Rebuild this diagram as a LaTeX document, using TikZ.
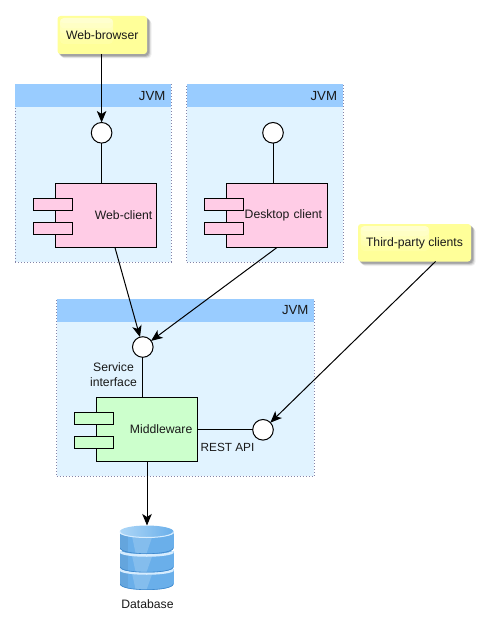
\documentclass[tikz,border=0pt]{standalone}
\usepackage{fontspec}
\setmainfont{Liberation Sans}
\usetikzlibrary{arrows.meta,calc}
\definecolor{jvmbody}{HTML}{E1F3FF}
\definecolor{jvmhead}{HTML}{99CCFF}
\definecolor{jvmedge}{HTML}{8484A8}
\definecolor{pinkfill}{HTML}{FFCCE6}
\definecolor{greenfill}{HTML}{CCFFCC}
\definecolor{notefill}{HTML}{FFFF99}
\definecolor{dbdark}{HTML}{6AAFEA}
\definecolor{dblight}{HTML}{B4DCFD}
\definecolor{dbtop}{HTML}{9ACDF5}
\definecolor{dbseam}{HTML}{3F88CC}
\tikzset{
  every node/.style={font=\fontsize{12.2}{14.6}\selectfont, outer sep=0pt, inner sep=0pt, text=black!90},
  jvmbox/.style={rectangle, fill=jvmbody, draw=jvmedge, line width=.8pt, dash pattern=on 1pt off 2pt, anchor=north west},
  jvmhd/.style={rectangle, fill=jvmhead, anchor=north west, minimum height=22.5pt, inner xsep=6pt, text width=#1, align=right},
  compbox/.style={rectangle, draw=black, line width=1pt, anchor=north west, minimum width=101pt, minimum height=64pt},
  portbox/.style={rectangle, draw=black, line width=1pt, anchor=north west, minimum width=39pt, minimum height=12pt},
  iface/.style={circle, draw=black, fill=white, line width=1pt, minimum size=20.6pt},
  notebox/.style={rectangle, rounded corners=3pt, fill=notefill, anchor=north west},
  conn/.style={draw=black, line width=1pt},
  arr/.style={conn, -{Stealth[length=11.5pt,width=9.5pt,inset=3pt]}},
  plainlabel/.style={align=center}
}
\newcommand{\noteshadow}[4]{%
  \foreach \d/\o in {5.0/.06,4.2/.09,3.4/.12,2.6/.15}{
    \fill[black,opacity=\o,rounded corners=4pt] (#1+\d-1.5,#2+\d-1.5) rectangle (#3+\d-.5,#4+\d-.5);
  }}
\newcommand{\notegloss}[4]{%
  \foreach \h/\o in {1/.12,.8/.12,.6/.14,.4/.16,.2/.18}{
    \fill[white,opacity=\o,rounded corners=4pt] (#1,#2) rectangle (#3,{#2+\h*(#4-#2)});
  }}
\newcommand{\dbseg}[3]{%
  \begin{scope}
    \clip (120,#1) -- (120,#2) .. controls (120,#2+#3*1.33) and (173.5,#2+#3*1.33) .. (173.5,#2) -- (173.5,#1) -- cycle;
    \shade[left color=dbdark, middle color=dblight, right color=dbdark] (120,#1) rectangle (173.5,#2+#3+1);
    \fill[white,opacity=.18] (131,#1) -- (154,#1) -- (146,#2+#3+1) -- (136,#2+#3+1) -- cycle;
    \fill[dbdark!70!black,opacity=.18] (120,#1) rectangle (128,#2+#3+1);
    \draw[dbseam, line width=1.2pt] (120,#2) .. controls (120,#2+#3*1.33) and (173.5,#2+#3*1.33) .. (173.5,#2);
    \draw[white!45!dblight, line width=2.5pt] (120,#1) .. controls (120,#1+6) and (173.5,#1+6) .. (173.5,#1);
  \end{scope}}
\begin{document}
\begin{tikzpicture}[x=1pt,y=-1pt]
\useasboundingbox (0,0) rectangle (487,628);

% JVM containers
\node[jvmbox, minimum width=156pt, minimum height=177.7pt] (jvma) at (15.3,84.5) {};
\node[jvmbox, minimum width=156.5pt, minimum height=177.7pt] (jvmb) at (186.5,84.5) {};
\node[jvmbox, minimum width=257.7pt, minimum height=177pt] (jvmc) at (56.7,299.2) {};
\node[jvmhd=144pt] (jvmahd) at (15.3,84.3) {\raisebox{-.7pt}{\fontsize{13.2}{15}\selectfont JVM}};
\node[jvmhd=144.5pt] (jvmbhd) at (186.5,84.3) {\raisebox{-.7pt}{\fontsize{13.2}{15}\selectfont JVM}};
\node[jvmhd=245.7pt] (jvmchd) at (56.7,299) {\raisebox{-.7pt}{\fontsize{13.2}{15}\selectfont JVM}};

% Notes
\noteshadow{57.5}{16}{147}{54}
\noteshadow{358}{224}{471}{261.5}
\node[notebox, minimum width=89.5pt, minimum height=38pt] (web) at (57.5,16) {};
\node[notebox, minimum width=113pt, minimum height=37.5pt] (third) at (358,224) {};
\notegloss{60}{18}{113}{44}
\notegloss{360.5}{226}{429}{251}
\node (webtxt) at (web.center) [yshift=-.5pt] {Web-browser};
\node (thirdtxt) at (third.center) [yshift=-.5pt] {Third-party clients};

% Components
\node[compbox, fill=pinkfill, text width=92.6pt, align=right] (wc) at (55.5,183.5) {\raisebox{-.5pt}{Web-client}};
\node[portbox, fill=pinkfill] (wcp) at (33.5,198.5) {};
\node[portbox, fill=pinkfill] (wcq) at (33.5,222.5) {};
\node[compbox, fill=pinkfill, text width=90pt, align=right] (dc) at (226.5,183.5) {\raisebox{-.5pt}{Desktop client}};
\node[portbox, fill=pinkfill] (dcp) at (204.5,198.5) {};
\node[portbox, fill=pinkfill] (dcq) at (204.5,222.5) {};
\node[compbox, fill=greenfill, text width=90.6pt, align=right] (mw) at (96.5,397.5) {\raisebox{-.5pt}{Middleware}};
\node[portbox, fill=greenfill] (mwp) at (74.5,412.5) {};
\node[portbox, fill=greenfill] (mwq) at (74.5,436.5) {};

% Interfaces
\node[iface] (ia) at (101.6,132.8) {};
\node[iface] (ib) at (273,132.8) {};
\node[iface] (svc) at (142.8,347) {};
\node[iface] (rest) at (263,429.8) {};

% Database
\node[minimum width=53pt, minimum height=65pt, anchor=north] (db) at (146.7,525.5) {};
\dbseg{569}{584}{6}
\dbseg{551}{567}{5.5}
\dbseg{531.5}{548}{6}
\shade[left color=dbtop!80!white, right color=dbdark] (146.7,531.5) ellipse[x radius=26.8, y radius=6];
\draw[white!45!dblight, line width=1pt] (120,531.5) .. controls (120,539.5) and (173.5,539.5) .. (173.5,531.5);
\node (dblabel) at (147.5,604) {Database};

% Labels
\node[plainlabel] (svclabel) at (113.5,374.5) {Service\\interface};
\node[font=\fontsize{11.8}{14}\selectfont] (restlabel) at (227.5,447.5) {REST API};

% Connectors
\draw[arr] (ia |- web.south) -- (ia);
\draw[conn] (ia) -- (ia |- wc.north);
\draw[conn] (ib) -- (ib |- dc.north);
\draw[conn] (svc) -- (svc |- mw.north);
\draw[conn] (rest) -- (rest -| mw.east);
\draw[arr] (wc) -- (svc);
\draw[arr] (dc.south) -- (svc);
\draw[arr] ([xshift=21pt]third.south) -- (rest);
\draw[arr] (mw.south) -- (mw.south |- db.north);
\end{tikzpicture}
\end{document}
